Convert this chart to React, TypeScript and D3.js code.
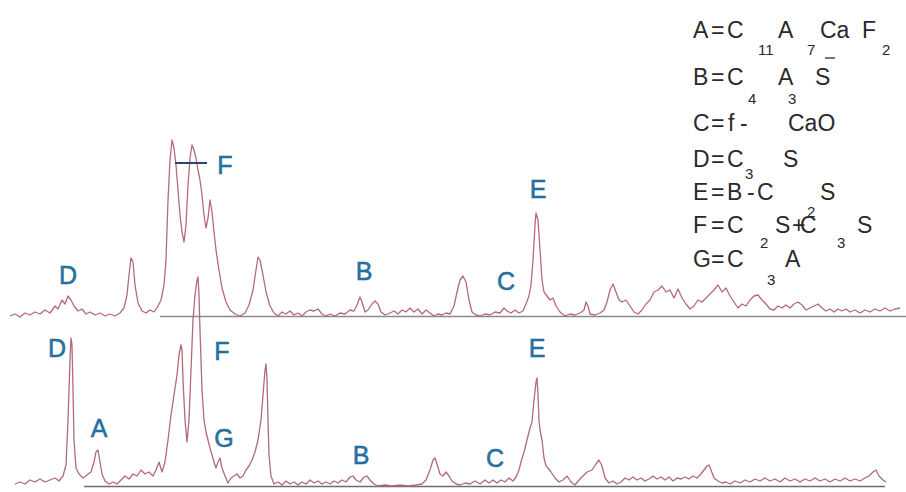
import React from "react";
import * as d3 from "d3";

// Upper pattern: [position, intensity]
const TOP_POS = [10,15,20,25,30,35,40,45,50,55,58,62,65,68,71,74,78,82,86,90,95,100,105,110,115,120,124,127,129,131,133,135,138,142,146,150,154,158,161,164,166,168,170,172,174,176,178,180,182,184,186,188,190,192,194,196,198,200,202,204,206,208,210,212,214,216,219,222,226,230,235,240,245,249,253,256,258,260,263,266,270,274,278,282,286,290,294,298,302,306,310,314,318,322,326,330,335,340,345,350,354,357,360,362,365,368,372,375,378,381,385,390,394,398,402,406,410,414,418,422,426,430,434,438,442,446,450,454,457,460,463,466,469,472,476,480,485,490,495,500,504,507,511,515,519,523,526,529,531,533,535,536,538,540,542,544,547,550,553,556,560,565,570,575,580,584,586,588,590,595,600,604,607,610,613,616,619,622,626,630,634,638,642,646,650,654,658,662,666,670,674,678,682,686,690,694,698,702,706,710,714,718,722,726,730,734,738,742,746,750,754,758,762,766,770,774,778,782,786,790,794,798,802,806,810,814,818,822,826,830,834,838,842,846,850,855,860,865,870,875,880,885,890,895,900];
const TOP_INT = [2,4,1,5,3,6,4,8,5,12,9,18,14,22,18,12,7,9,4,6,3,5,2,4,2,5,10,23,43,60,56,33,15,7,5,8,6,12,18,33,58,118,158,178,170,153,128,103,86,76,93,133,160,173,168,160,148,138,123,103,90,100,118,106,86,68,48,30,16,8,4,2,5,13,28,48,61,58,43,26,12,5,2,6,4,7,3,5,2,6,8,7,9,4,2,4,2,5,4,8,7,13,21,16,6,8,14,17,14,6,3,5,7,4,8,6,10,6,9,4,8,5,2,4,3,5,4,12,26,38,42,36,18,6,3,2,4,3,6,5,10,7,5,8,5,7,14,22,33,58,93,105,98,68,38,26,22,18,20,12,6,2,4,3,5,8,16,12,4,3,5,8,16,28,34,26,18,16,18,12,6,4,8,14,18,26,28,32,26,28,20,29,20,14,9,12,18,16,20,24,28,33,26,30,22,16,10,14,12,18,22,23,18,14,9,8,12,10,13,10,14,16,13,8,10,12,14,10,7,9,6,9,7,9,6,8,5,8,6,9,7,10,7,9,10];

// Lower pattern: [position, intensity]
const BOT_POS = [15,20,25,30,35,40,45,50,55,59,63,66,68,70,71,72,73,74,76,79,83,87,91,94,96,98,100,102,105,109,113,117,121,125,129,133,137,141,145,149,153,156,159,162,165,168,171,174,177,179,181,182,183,185,187,189,191,193,195,197,198,199,200,202,204,206,208,210,212,214,216,218,220,222,225,228,231,234,237,240,243,246,249,252,255,258,261,263,265,266,267,268,269,271,274,278,282,286,290,294,298,302,306,310,314,318,322,326,330,334,338,342,346,350,353,356,360,364,367,370,374,378,385,392,400,408,416,422,426,430,433,435,437,440,443,446,449,452,456,460,465,470,475,480,485,489,493,497,501,505,509,513,516,519,521,524,527,530,532,534,536,537,538,539,540,542,544,546,548,551,555,559,563,567,571,575,579,583,587,592,596,599,602,605,609,613,617,621,625,629,633,637,641,645,649,653,657,661,665,669,673,677,681,685,689,693,697,701,704,707,709,711,714,718,722,726,730,735,740,745,750,755,760,765,770,775,780,785,790,795,800,805,810,815,820,825,830,835,840,845,850,855,860,865,869,873,876,879,883,886];
const BOT_INT = [3,5,3,7,5,8,5,7,9,6,11,22,67,127,149,142,97,47,19,13,9,12,15,25,35,37,25,13,6,3,5,3,7,11,8,13,11,17,13,15,11,17,25,15,25,47,72,92,112,132,142,137,107,67,45,67,117,167,192,207,210,192,157,97,67,55,47,39,32,25,19,25,29,19,11,4,9,11,13,9,11,17,21,27,35,47,67,92,117,123,107,67,32,11,3,5,2,6,3,5,2,5,3,7,4,6,3,5,3,6,4,7,5,10,11,7,5,10,11,7,3,1,2,1,2,1,2,3,7,17,27,29,23,13,11,15,11,6,3,2,4,3,6,3,7,4,7,4,7,5,9,6,10,17,25,35,47,59,65,87,105,109,92,67,57,47,29,21,19,15,9,5,7,11,5,2,7,11,15,17,23,27,21,9,4,6,3,5,9,7,10,7,9,6,8,11,8,10,7,10,6,9,8,10,8,11,9,13,17,21,22,17,9,6,4,5,3,6,4,7,5,8,6,9,6,8,5,9,6,8,5,8,6,9,6,8,5,8,6,9,6,8,6,9,11,15,17,11,7,5];

// Peak labels
const TOP_LABELS = ["D", "F", "B", "C", "E"];
const TOP_LABEL_POS = [68, 225, 364, 506, 538];
const TOP_LABEL_INT = [34, 144, 38, 28, 120];
const BOT_LABELS = ["D", "A", "F", "G", "B", "C", "E"];
const BOT_LABEL_POS = [57, 99, 222, 224, 361, 495, 537];
const BOT_LABEL_INT = [130, 50, 127, 40, 23, 20, 130];

// Legend: each line is a list of [text, isSubscript]
const LEGEND_LINES: [string, number][][] = [
  [["A", 0], ["=", 0], ["C", 0], ["11", 1], ["A", 0], ["7", 1], ["Ca", 0], ["F", 0], ["2", 1]],
  [["B", 0], ["=", 0], ["C", 0], ["4", 1], ["A", 0], ["3", 1], ["S", 0]],
  [["C", 0], ["=", 0], ["f", 0], ["-", 0], ["CaO", 0]],
  [["D", 0], ["=", 0], ["C", 0], ["3", 1], ["S", 0]],
  [["E", 0], ["=", 0], ["B", 0], ["-", 0], ["C", 0], ["2", 1], ["S", 0]],
  [["F", 0], ["=", 0], ["C", 0], ["2", 1], ["S", 0], ["+", 0], ["C", 0], ["3", 1], ["S", 0]],
  [["G", 0], ["=", 0], ["C", 0], ["3", 1], ["A", 0]],
];
// x layout of the legend pieces
const LEGEND_X = [
  [693, 711, 727, 758, 778, 807, 820, 862, 882],
  [693, 711, 727, 748, 778, 788, 815],
  [693, 711, 728, 740, 788],
  [693, 711, 727, 745, 783],
  [693, 711, 727, 747, 757, 807, 820],
  [693, 711, 727, 760, 775, 792, 800, 837, 857],
  [693, 711, 727, 767, 785],
];
const LEGEND_BASE = [38, 85, 131, 167, 200, 233, 267];
const LEGEND_SUB = [55, 104, 0, 179, 217, 248, 285];

const W = 906;
const H = 492;

export default function App() {
  const x = d3.scaleLinear().domain([0, W]).range([0, W]);
  const yTop = d3.scaleLinear().domain([0, 200]).range([318, 118]);
  const yBot = d3.scaleLinear().domain([0, 220]).range([487, 267]);

  const topData = TOP_POS.map((p, i) => [p, TOP_INT[i]] as [number, number]);
  const botData = BOT_POS.map((p, i) => [p, BOT_INT[i]] as [number, number]);

  const lineTop = d3.line<[number, number]>().x((d) => x(d[0])).y((d) => yTop(d[1]));
  const lineBot = d3.line<[number, number]>().x((d) => x(d[0])).y((d) => yBot(d[1]));

  const labelFill = "#2378ad";
  const font = "'Liberation Sans', Arial, sans-serif";

  return (
    <div style={{ position: "absolute", left: 0, top: 0 }}>
      <svg width={W} height={H} style={{ display: "block", background: "#fff" }}>
        {/* baselines */}
        <line x1={x(160)} x2={x(906)} y1={yTop(1.5)} y2={yTop(1.5)} stroke="#8a8a8a" strokeWidth={1.4} />
        <line x1={x(84)} x2={x(885)} y1={yBot(0.5)} y2={yBot(0.5)} stroke="#6e6e6e" strokeWidth={1.6} />

        {/* traces */}
        <path d={lineTop(topData) || ""} fill="none" stroke="#b56a7c" strokeWidth={1.3} strokeLinejoin="round" />
        <path d={lineBot(botData) || ""} fill="none" stroke="#b06a7a" strokeWidth={1.3} strokeLinejoin="round" />

        {/* F bar in upper pattern */}
        <line x1={x(175)} x2={x(207)} y1={yTop(155)} y2={yTop(155)} stroke="#2d4470" strokeWidth={2} />

        {/* labels */}
        {TOP_LABELS.map((t, i) => (
          <text key={"t" + i} x={x(TOP_LABEL_POS[i])} y={yTop(TOP_LABEL_INT[i])} textAnchor="middle"
            fontFamily={font} fontSize={25} fill={labelFill} stroke="#1d5a85" strokeWidth={0.5}>{t}</text>
        ))}
        {BOT_LABELS.map((t, i) => (
          <text key={"b" + i} x={x(BOT_LABEL_POS[i])} y={yBot(BOT_LABEL_INT[i])} textAnchor="middle"
            fontFamily={font} fontSize={25} fill={labelFill} stroke="#1d5a85" strokeWidth={0.5}>{t}</text>
        ))}

        {/* legend */}
        <g fontFamily={font} fill="#2a2a2a">
          {LEGEND_LINES.map((line, li) =>
            line.map(([t, sub], pi) => (
              <text key={li + "-" + pi} x={LEGEND_X[li][pi]} y={sub ? LEGEND_SUB[li] : LEGEND_BASE[li]}
                fontSize={sub ? 15 : 23}>{t}</text>
            ))
          )}
          <line x1={825} x2={835} y1={58} y2={58} stroke="#2a2a2a" strokeWidth={1.3} />
        </g>
      </svg>
    </div>
  );
}
